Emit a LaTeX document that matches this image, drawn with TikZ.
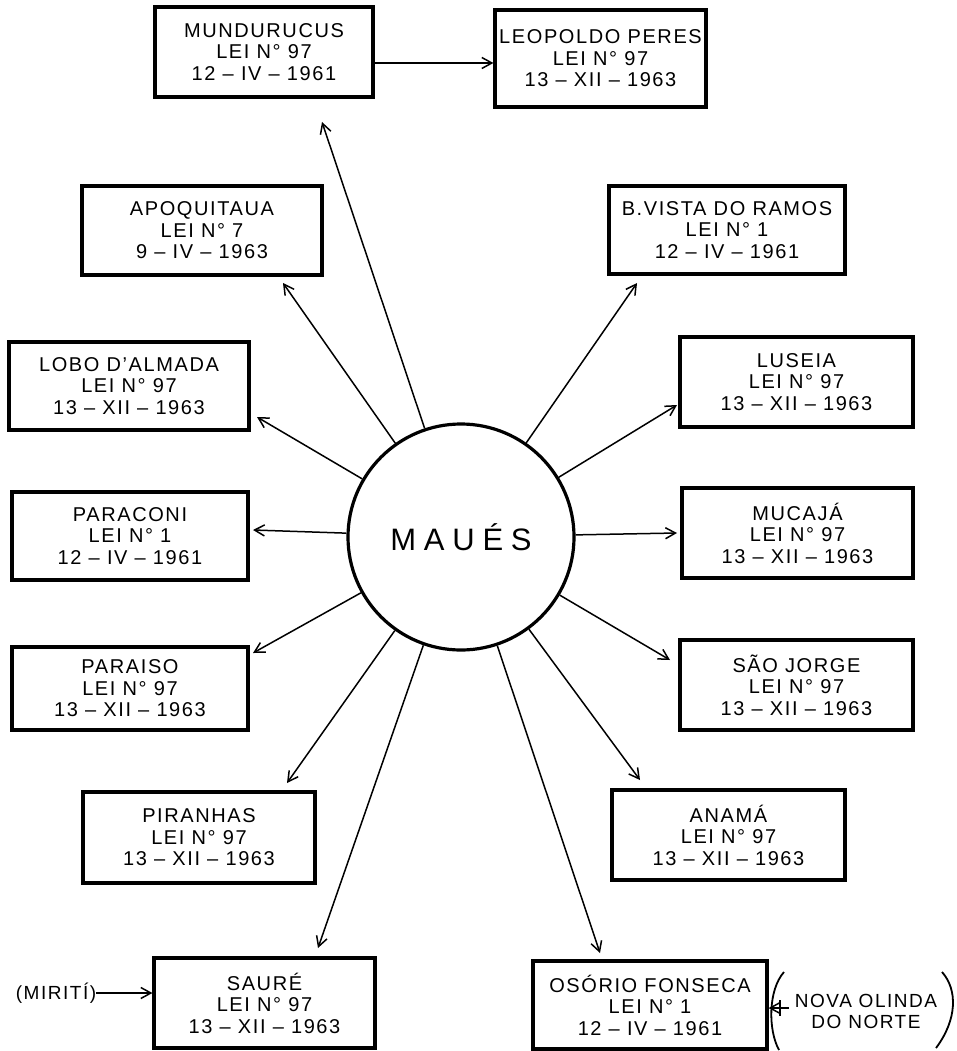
\documentclass[tikz,border=0pt]{standalone}
\usepackage{fontspec}
\setmainfont{Liberation Sans}[LetterSpace=8]
\newfontfamily\bigfont{Liberation Sans}[LetterSpace=25]
\usetikzlibrary{arrows.meta}
\begin{document}
\begin{tikzpicture}[x=1pt,y=-1pt,
  box/.style={draw, line width=3.2pt, align=center, inner sep=0pt, font=\fontsize{20}{21.5}\selectfont},
  lbl/.style={align=center, inner sep=0pt, font=\fontsize{19}{21}\selectfont},
  arr/.style={-{Straight Barb[length=10pt,width=11pt]}, line width=1.5pt},
  paren/.style={line width=1.8pt}]
\useasboundingbox (0,0) rectangle (956,1051);
\node[circle, draw, line width=3.2pt, minimum size=226pt, inner sep=0pt, font=\bigfont\fontsize{31}{31}\selectfont] (maues) at (461,537) {MAUÉS};
% boxes
\node[box, minimum width=218pt, minimum height=90pt] (mund) at (264,52) {MUNDURUCUS\\LEI N° 97\\12 – IV – 1961};
\node[box, minimum width=211pt, minimum height=97pt] (leop) at (600.5,58.5) {LEOPOLDO PERES\\LEI N° 97\\13 – XII – 1963};
\node[box, minimum width=240pt, minimum height=89pt] (apoq) at (202,230.5) {APOQUITAUA\\LEI N° 7\\9 – IV – 1963};
\node[box, minimum width=236pt, minimum height=88pt] (bvista) at (727,230) {B.VISTA DO RAMOS\\LEI N° 1\\12 – IV – 1961};
\node[box, minimum width=240pt, minimum height=88pt] (lobo) at (129,386) {LOBO D'ALMADA\\LEI N° 97\\13 – XII – 1963};
\node[box, minimum width=233pt, minimum height=90pt] (luseia) at (796.5,382) {LUSEIA\\LEI N° 97\\13 – XII – 1963};
\node[box, minimum width=236pt, minimum height=88pt] (paraconi) at (130,536) {PARACONI\\LEI N° 1\\12 – IV – 1961};
\node[box, minimum width=231pt, minimum height=90pt] (mucaja) at (797.5,533) {MUCAJÁ\\LEI N° 97\\13 – XII – 1963};
\node[box, minimum width=236pt, minimum height=83pt] (paraiso) at (130,688.5) {PARAISO\\LEI N° 97\\13 – XII – 1963};
\node[box, minimum width=233pt, minimum height=90pt] (saojorge) at (796.5,685) {SÃO JORGE\\LEI N° 97\\13 – XII – 1963};
\node[box, minimum width=232pt, minimum height=91pt] (piranhas) at (199,837.5) {PIRANHAS\\LEI N° 97\\13 – XII – 1963};
\node[box, minimum width=233pt, minimum height=90pt] (anama) at (728.5,835) {ANAMÁ\\LEI N° 97\\13 – XII – 1963};
\node[box, minimum width=221pt, minimum height=90pt] (saure) at (264.5,1003) {SAURÉ\\LEI N° 97\\13 – XII – 1963};
\node[box, minimum width=234pt, minimum height=88pt] (osorio) at (650,1005) {OSÓRIO FONSECA\\LEI N° 1\\12 – IV – 1961};
% side labels
\node[lbl] (miriti) at (56,993) {(MIRITÍ)};
\node[lbl] (nova) at (866,1011) {NOVA OLINDA\\DO NORTE};
% arrow tips
\coordinate (tMund) at (322,122);
\coordinate (tApoq) at (283,283);
\coordinate (tLobo) at (257,417);
\coordinate (tParaconi) at (253,530);
\coordinate (tParaiso) at (253,653);
\coordinate (tPiranhas) at (287,783);
\coordinate (tSaure) at (318,948);
\coordinate (tOsorio) at (600,953);
\coordinate (tAnama) at (640,780);
\coordinate (tSaoJorge) at (670,660);
\coordinate (tMucaja) at (677,533);
\coordinate (tLuseia) at (677,405);
\coordinate (tBvista) at (637,283);
\foreach \t in {tMund,tApoq,tLobo,tParaconi,tParaiso,tPiranhas,tSaure,tOsorio,tAnama,tSaoJorge,tMucaja,tLuseia,tBvista}
  \draw[arr] (maues) -- (\t);
% other arrows
\coordinate (y63) at (0,63);
\draw[arr] (mund.east |- y63) -- (leop.west |- y63);
\draw[arr] (miriti.east) -- (miriti.east -| saure.west);
\coordinate (plus) at (789,1008);
\draw[arr] (plus) -- (plus -| osorio.east);
\draw[line width=1.5pt] (780,1000) -- (780,1016);
% parentheses
\draw[paren] (784,972) .. controls (768,990) and (768,1030) .. (779,1050);
\draw[paren] (942,972) .. controls (958,990) and (957,1020) .. (936,1048);
\end{tikzpicture}
\end{document}
